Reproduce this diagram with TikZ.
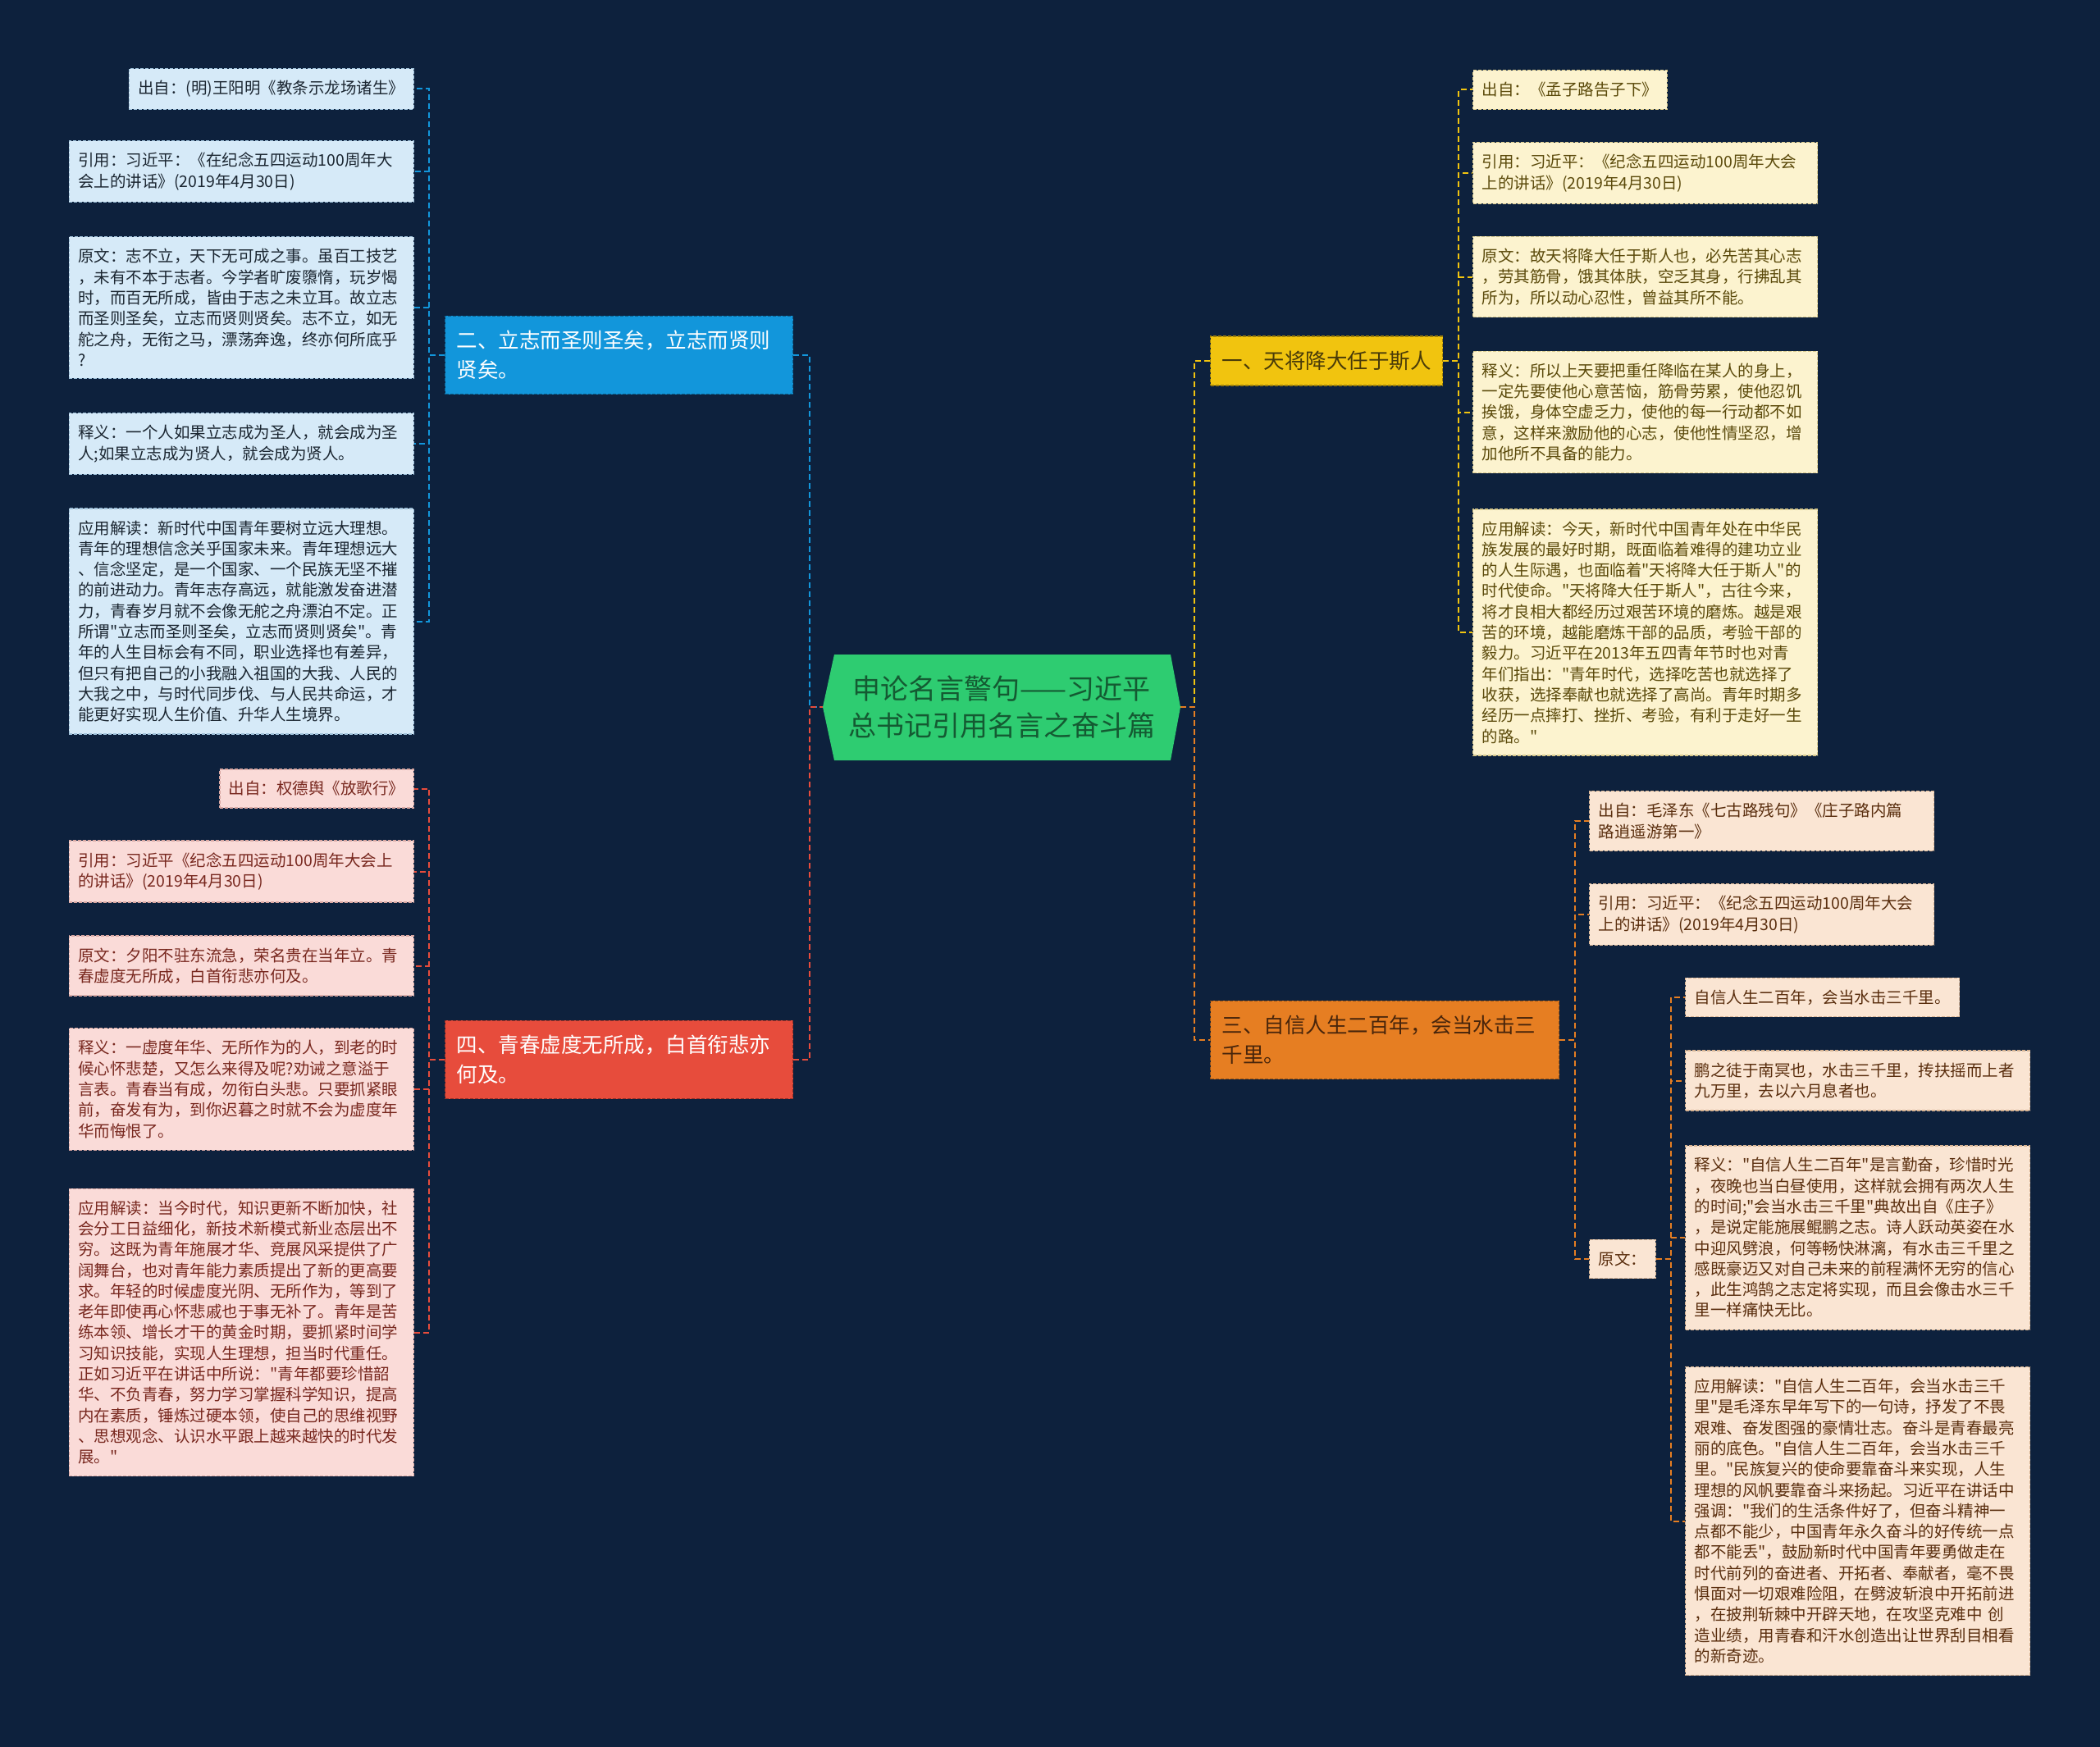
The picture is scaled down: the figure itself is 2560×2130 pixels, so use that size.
\documentclass[tikz,border=0pt]{standalone}
\usepackage{fontspec}
\defaultfontfeatures{}
\setmainfont{Noto Sans CJK SC}[Ligatures=TeXOff]
\usepackage{xcolor}
\definecolor{bgMap}{HTML}{0D213D}
\definecolor{rootMap}{HTML}{2ECC71}
\definecolor{rootInk}{HTML}{145A32}
\definecolor{blueMap}{HTML}{1296DB}
\definecolor{redMap}{HTML}{E74C3C}
\definecolor{yellowMap}{HTML}{F1C40F}
\definecolor{orangeMap}{HTML}{E67E22}
\definecolor{blueLeaf}{HTML}{D6EAF8}
\definecolor{redLeaf}{HTML}{FADBD8}
\definecolor{yellowLeaf}{HTML}{FCF3CF}
\definecolor{orangeLeaf}{HTML}{FAE5D3}
\definecolor{blueEdge}{HTML}{9DBFD8}
\definecolor{redEdge}{HTML}{D9A8A3}
\definecolor{yellowEdge}{HTML}{D8C98C}
\definecolor{orangeEdge}{HTML}{D8B493}
\definecolor{blueInk}{HTML}{1B2631}
\definecolor{redInk}{HTML}{78281F}
\definecolor{yellowInk}{HTML}{5B4A0B}
\definecolor{orangeInk}{HTML}{5A2E0E}
\newcommand\leaffont{\fontsize{19.5}{25.3}\selectfont}
\newcommand\branchfont{\fontsize{25.5}{36}\selectfont}
\newcommand\rootfont{\fontsize{34}{45}\selectfont}
\usepackage{tikz}

\begin{document}
\begin{tikzpicture}[x=1pt,y=-1pt,
  leaf/.style={fill=#1Leaf,draw=#1Edge,text=#1Ink,line width=1.2pt,
    dash pattern=on 4pt off 2pt,inner xsep=11pt,inner ysep=14.5pt,
    align=left,font=\leaffont},
  wide/.style={text width=398pt},
  branch/.style={fill=#1Map,draw=#1Map!65!black,line width=1.2pt,
    dash pattern=on 4pt off 2pt,inner xsep=14pt,inner ysep=18pt,
    align=left,font=\branchfont},
  link/.style={draw=#1Map,line width=2pt,dash pattern=on 7pt off 4pt}]
  \useasboundingbox (0,0) rectangle (2560,2130);
  \fill[bgMap] (0,0) rectangle (2560,2130);

  % centre
  \coordinate (temaL) at (1003,862);
  \coordinate (temaR) at (1439,862);
  \fill[rootMap] (temaL) -- (1017,798) -- (1427,798) -- (temaR)
    -- (1427,927) -- (1017,927) -- cycle;
  \node[text=rootInk,font=\rootfont,align=center] (tema) at (1221,862)
    {申论名言警句——习近平\\总书记引用名言之奋斗篇};

  % branches
  \node[branch=blue,text=white,text width=396pt,anchor=west] (zhi) at (542,433)
    {二、立志而圣则圣矣，立志而贤则\\贤矣。};
  \node[branch=red,text=white,text width=396pt,anchor=west] (qing) at (542,1292)
    {四、青春虚度无所成，白首衔悲亦\\何及。};
  \node[branch=yellow,text=yellowInk!80!black,anchor=west] (tian) at (1475,440)
    {一、天将降大任于斯人};
  \node[branch=orange,text=orangeInk!80!black,text width=397pt,anchor=west] (zixin) at (1475,1268)
    {三、自信人生二百年，会当水击三\\千里。};

  \draw[link=blue] (zhi.east) -- ++(20,0) |- (temaL);
  \draw[link=red] (qing.east) -- ++(20,0) |- (temaL);
  \draw[link=yellow] (temaR) -- ++(17,0) |- (tian.west);
  \draw[link=orange] (temaR) -- ++(17,0) |- (zixin.west);

  % 二
  \node[leaf=blue,anchor=east] (b1) at (505,108.5) {出自：(明)王阳明《教条示龙场诸生》};
  \foreach \i/\yy/\txt in {
    2/209/{引用：习近平：《在纪念五四运动100周年大\\会上的讲话》(2019年4月30日)},
    3/375/{原文：志不立，天下无可成之事。虽百工技艺\\，未有不本于志者。今学者旷废隳惰，玩岁愒\\时，而百无所成，皆由于志之未立耳。故立志\\而圣则圣矣，立志而贤则贤矣。志不立，如无\\舵之舟，无衔之马，漂荡奔逸，终亦何所底乎\\?},
    4/541/{释义：一个人如果立志成为圣人，就会成为圣\\人;如果立志成为贤人，就会成为贤人。},
    5/757.5/{应用解读：新时代中国青年要树立远大理想。\\青年的理想信念关乎国家未来。青年理想远大\\、信念坚定，是一个国家、一个民族无坚不摧\\的前进动力。青年志存高远，就能激发奋进潜\\力，青春岁月就不会像无舵之舟漂泊不定。正\\所谓"立志而圣则圣矣，立志而贤则贤矣"。青\\年的人生目标会有不同，职业选择也有差异，\\但只有把自己的小我融入祖国的大我、人民的\\大我之中，与时代同步伐、与人民共命运，才\\能更好实现人生价值、升华人生境界。}}
    \node[leaf=blue,wide,anchor=east] (b\i) at (505,\yy) {\txt};
  \foreach \i in {1,...,5}
    \draw[link=blue] (zhi.west) -- ++(-19,0) |- (b\i.east);

  % 四
  \node[leaf=red,anchor=east] (r1) at (505,961.5) {出自：权德舆《放歌行》};
  \foreach \i/\yy/\txt in {
    2/1062.5/{引用：习近平《纪念五四运动100周年大会上\\的讲话》(2019年4月30日)},
    3/1177.5/{原文：夕阳不驻东流急，荣名贵在当年立。青\\春虚度无所成，白首衔悲亦何及。},
    4/1328/{释义：一虚度年华、无所作为的人，到老的时\\候心怀悲楚，又怎么来得及呢?劝诫之意溢于\\言表。青春当有成，勿衔白头悲。只要抓紧眼\\前，奋发有为，到你迟暮之时就不会为虚度年\\华而悔恨了。},
    5/1624.5/{应用解读：当今时代，知识更新不断加快，社\\会分工日益细化，新技术新模式新业态层出不\\穷。这既为青年施展才华、竞展风采提供了广\\阔舞台，也对青年能力素质提出了新的更高要\\求。年轻的时候虚度光阴、无所作为，等到了\\老年即使再心怀悲戚也于事无补了。青年是苦\\练本领、增长才干的黄金时期，要抓紧时间学\\习知识技能，实现人生理想，担当时代重任。\\正如习近平在讲话中所说："青年都要珍惜韶\\华、不负青春，努力学习掌握科学知识，提高\\内在素质，锤炼过硬本领，使自己的思维视野\\、思想观念、认识水平跟上越来越快的时代发\\展。"}}
    \node[leaf=red,wide,anchor=east] (r\i) at (505,\yy) {\txt};
  \foreach \i in {1,...,5}
    \draw[link=red] (qing.west) -- ++(-19,0) |- (r\i.east);

  % 一
  \node[leaf=yellow,anchor=west] (y1) at (1795,109.5) {出自：《孟子路告子下》};
  \foreach \i/\yy/\txt in {
    2/211/{引用：习近平：《纪念五四运动100周年大会\\上的讲话》(2019年4月30日)},
    3/337.5/{原文：故天将降大任于斯人也，必先苦其心志\\，劳其筋骨，饿其体肤，空乏其身，行拂乱其\\所为，所以动心忍性，曾益其所不能。},
    4/502.5/{释义：所以上天要把重任降临在某人的身上，\\一定先要使他心意苦恼，筋骨劳累，使他忍饥\\挨饿，身体空虚乏力，使他的每一行动都不如\\意，这样来激励他的心志，使他性情坚忍，增\\加他所不具备的能力。},
    5/771/{应用解读：今天，新时代中国青年处在中华民\\族发展的最好时期，既面临着难得的建功立业\\的人生际遇，也面临着"天将降大任于斯人"的\\时代使命。"天将降大任于斯人"，古往今来，\\将才良相大都经历过艰苦环境的磨炼。越是艰\\苦的环境，越能磨炼干部的品质，考验干部的\\毅力。习近平在2013年五四青年节时也对青\\年们指出："青年时代，选择吃苦也就选择了\\收获，选择奉献也就选择了高尚。青年时期多\\经历一点摔打、挫折、考验，有利于走好一生\\的路。"}}
    \node[leaf=yellow,wide,anchor=west] (y\i) at (1795,\yy) {\txt};
  \foreach \i in {1,...,5}
    \draw[link=yellow] (tian.east) -- ++(19,0) |- (y\i.west);

  % 三
  \node[leaf=orange,wide,anchor=west] (o1) at (1937,1001)
    {出自：毛泽东《七古路残句》《庄子路内篇\\路逍遥游第一》};
  \node[leaf=orange,wide,anchor=west] (o2) at (1937,1115)
    {引用：习近平：《纪念五四运动100周年大会\\上的讲话》(2019年4月30日)};
  \node[leaf=orange,anchor=west] (o3) at (1937,1535) {原文：};
  \foreach \i in {1,2,3}
    \draw[link=orange] (zixin.east) -- ++(19,0) |- (o\i.west);

  \node[leaf=orange,anchor=west] (g1) at (2054,1216) {自信人生二百年，会当水击三千里。};
  \foreach \i/\yy/\txt in {
    2/1317.5/{鹏之徒于南冥也，水击三千里，抟扶摇而上者\\九万里，去以六月息者也。},
    3/1509/{释义："自信人生二百年"是言勤奋，珍惜时光\\，夜晚也当白昼使用，这样就会拥有两次人生\\的时间;"会当水击三千里"典故出自《庄子》\\，是说定能施展鲲鹏之志。诗人跃动英姿在水\\中迎风劈浪，何等畅快淋漓，有水击三千里之\\感既豪迈又对自己未来的前程满怀无穷的信心\\，此生鸿鹄之志定将实现，而且会像击水三千\\里一样痛快无比。},
    4/1854.5/{应用解读："自信人生二百年，会当水击三千\\里"是毛泽东早年写下的一句诗，抒发了不畏\\艰难、奋发图强的豪情壮志。奋斗是青春最亮\\丽的底色。"自信人生二百年，会当水击三千\\里。"民族复兴的使命要靠奋斗来实现，人生\\理想的风帆要靠奋斗来扬起。习近平在讲话中\\强调："我们的生活条件好了，但奋斗精神一\\点都不能少，中国青年永久奋斗的好传统一点\\都不能丢"，鼓励新时代中国青年要勇做走在\\时代前列的奋进者、开拓者、奉献者，毫不畏\\惧面对一切艰难险阻，在劈波斩浪中开拓前进\\，在披荆斩棘中开辟天地，在攻坚克难中 创\\造业绩，用青春和汗水创造出让世界刮目相看\\的新奇迹。}}
    \node[leaf=orange,wide,anchor=west] (g\i) at (2054,\yy) {\txt};
  \foreach \i in {1,...,4}
    \draw[link=orange] (o3.east) -- ++(18,0) |- (g\i.west);
\end{tikzpicture}
\end{document}
